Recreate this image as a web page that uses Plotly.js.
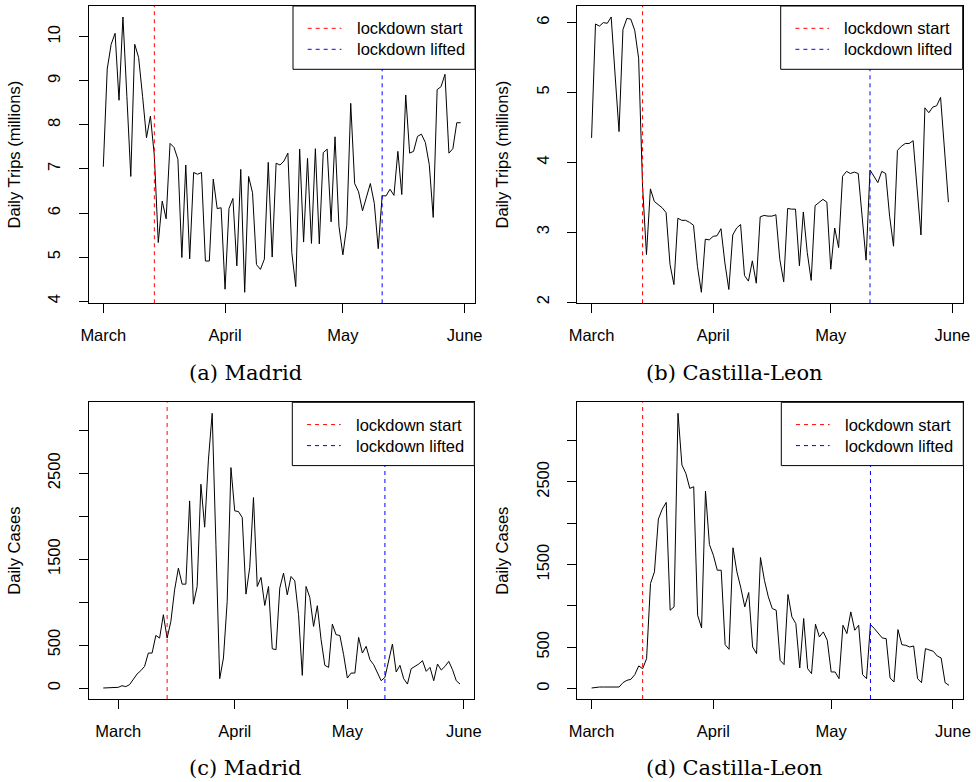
<!DOCTYPE html>
<html>
<head>
<meta charset="utf-8">
<script src="https://cdn.plot.ly/plotly-3.0.1.min.js"></script>
<style>
html, body { margin: 0; padding: 0; background: #ffffff; }
#chart { width: 976px; height: 782px; }
</style>
</head>
<body>
<div id="chart"></div>
<script>
// ---------------- data ----------------
const tripsStartDate = '2020-03-01';
const casesMadridStartDate = '2020-02-26';
const casesCLStartDate = '2020-03-01';
const lockdownStart = '2020-03-14';
const lockdownLifted = '2020-05-11';

const monthTickVals = ['2020-03-01', '2020-04-01', '2020-05-01', '2020-06-01'];
const monthTickText = ['March', 'April', 'May', 'June'];

const tripsMadridTicks = [4, 5, 6, 7, 8, 9, 10];
const tripsCLTicks = [2, 3, 4, 5, 6];
const casesTicks = [0, 500, 1000, 1500, 2000, 2500, 3000];
const casesTickText = ['0', '500', '', '1500', '', '2500', ''];

// Daily trips (millions), Madrid, 1 March - 31 May
const tripsMadrid = [
  7.05, 9.27, 9.83, 10.08, 8.56, 10.45, 8.65, 6.83, 9.83, 9.53,
  8.65, 7.71, 8.20, 7.30, 5.33, 6.27, 5.87, 7.58, 7.49, 7.22,
  4.99, 7.09, 4.96, 6.92, 6.88, 6.92, 4.91, 4.91, 6.77, 6.10,
  6.12, 4.27, 6.10, 6.33, 4.80, 6.99, 4.20, 6.83, 6.46, 4.83,
  4.72, 4.95, 7.15, 5.00, 7.13, 7.09, 7.18, 7.36, 5.10, 4.33,
  7.45, 5.34, 7.24, 5.31, 7.46, 5.30, 7.37, 7.45, 5.80, 7.73,
  5.70, 5.05, 5.72, 8.49, 6.67, 6.48, 6.05, 6.39, 6.67, 6.22,
  5.19, 6.39, 6.39, 6.54, 6.40, 7.40, 6.42, 8.68, 7.36, 7.40,
  7.74, 7.79, 7.60, 7.10, 5.90, 8.80, 8.87, 9.15, 7.36, 7.46,
  8.05, 8.05
];

// Daily trips (millions), Castilla-Leon, 1 March - 31 May
const tripsCL = [
  4.35, 5.98, 5.95, 6.00, 5.99, 6.08, 5.25, 4.44, 5.90, 6.06,
  6.05, 5.89, 5.49, 3.66, 2.68, 3.62, 3.44, 3.39, 3.35, 3.28,
  2.54, 2.25, 3.20, 3.17, 3.17, 3.14, 3.10, 2.51, 2.14, 2.90,
  2.89, 2.94, 2.95, 3.05, 2.56, 2.18, 2.96, 3.06, 3.11, 2.38,
  2.30, 2.59, 2.27, 3.22, 3.24, 3.23, 3.23, 3.25, 2.61, 2.29,
  3.34, 3.33, 3.33, 2.52, 3.29, 2.71, 2.31, 3.38, 3.43, 3.47,
  3.43, 2.47, 3.06, 2.78, 3.80, 3.87, 3.84, 3.86, 3.84, 3.23,
  2.60, 3.89, 3.80, 3.71, 3.87, 3.84, 3.23, 2.80, 4.17, 4.23,
  4.27, 4.27, 4.31, 3.66, 2.96, 4.78, 4.71, 4.79, 4.81, 4.93,
  4.20, 3.43
];

// Daily cases, Madrid, 26 February - 31 May
const casesMadrid = [
  0, 0, 0, 0, 8, 27, 16, 39, 97, 163,
  202, 252, 407, 407, 612, 581, 853, 581, 775, 1143,
  1395, 1209, 1209, 2178, 976, 1182, 2372, 1872, 2655, 3198,
  1667, 108, 349, 1008, 2566, 2062, 2054, 1985, 1093, 1403,
  2217, 1182, 1287, 961, 1182, 457, 446, 1163, 1337, 1085,
  1298, 1248, 853, 147, 1182, 1054, 717, 958, 562, 264,
  240, 744, 620, 612, 388, 116, 174, 174, 589, 407,
  485, 330, 271, 174, 85, 124, 310, 512, 186, 264,
  108, 46, 225, 252, 279, 318, 194, 240, 85, 279,
  209, 252, 310, 213, 85, 46
];

// Daily cases, Castilla-Leon, 1 March - 31 May
const casesCL = [
  8, 16, 20, 20, 20, 20, 20, 20, 73, 101,
  113, 170, 275, 242, 363, 1271, 1412, 2050, 2171, 2252,
  948, 989, 3329, 2704, 2603, 2421, 2441, 888, 735, 2389,
  1743, 1614, 1432, 1432, 532, 476, 1703, 1412, 1218, 989,
  1162, 504, 424, 1585, 1311, 1110, 969, 948, 343, 291,
  1138, 868, 787, 250, 848, 242, 182, 779, 626, 686,
  586, 202, 202, 121, 767, 666, 928, 706, 767, 170,
  121, 775, 726, 666, 613, 605, 129, 81, 714, 532,
  524, 504, 516, 121, 73, 484, 472, 452, 395, 371,
  73, 40
];

const captions = ['(a) Madrid', '(b) Castilla-Leon', '(c) Madrid', '(d) Castilla-Leon'];
const legendLabels = ['lockdown start', 'lockdown lifted'];
const yTitles = ['Daily Trips (millions)', 'Daily Trips (millions)', 'Daily Cases', 'Daily Cases'];

// ---------------- helpers ----------------
const W = 976, H = 782;
const px = x => x / W;
const py = y => 1 - y / H;
const DAY = 86400000;

function consecutiveDays(start, n) {
  const t0 = Date.parse(start + 'T00:00:00Z');
  const out = [];
  for (let i = 0; i < n; i++) out.push(new Date(t0 + i * DAY).toISOString().slice(0, 10));
  return out;
}
function msToStr(ms) {
  return new Date(ms).toISOString().replace('T', ' ').replace('Z', '');
}
function padRange(lo, hi) {
  const d = (hi - lo) * 0.04;
  return [lo - d, hi + d];
}
function dateRange(dates) {
  const r = padRange(Date.parse(dates[0] + 'T00:00:00Z'), Date.parse(dates[dates.length - 1] + 'T00:00:00Z'));
  return [msToStr(r[0]), msToStr(r[1])];
}
function valueRange(vals) {
  return padRange(Math.min.apply(null, vals), Math.max.apply(null, vals));
}

const SANS = 'Liberation Sans, Arial, Helvetica, sans-serif';
const SERIF = 'DejaVu Serif, Liberation Serif, serif';
const FS = 16.5;

const series = [
  { dates: consecutiveDays(tripsStartDate, tripsMadrid.length), vals: tripsMadrid, ticks: tripsMadridTicks, tickText: tripsMadridTicks.map(String) },
  { dates: consecutiveDays(tripsStartDate, tripsCL.length), vals: tripsCL, ticks: tripsCLTicks, tickText: tripsCLTicks.map(String) },
  { dates: consecutiveDays(casesMadridStartDate, casesMadrid.length), vals: casesMadrid, ticks: casesTicks, tickText: casesTickText },
  { dates: consecutiveDays(casesCLStartDate, casesCL.length), vals: casesCL, ticks: casesTicks, tickText: casesTickText }
];

// plot-area boxes in pixels
const panels = [
  { x0: 89,    x1: 475,   y0: 6,     y1: 303.3 },
  { x0: 577.3, x1: 962.7, y0: 6,     y1: 303.3 },
  { x0: 89,    x1: 474.3, y0: 402.3, y1: 699 },
  { x0: 577.3, x1: 963.3, y0: 402.3, y1: 699 }
];
const captionPos = [[246, 372.5], [734, 372.5], [246, 768], [734, 768]];

const axisCommon = {
  showline: true, mirror: true, linecolor: '#000', linewidth: 1,
  ticks: 'outside', ticklen: 9, tickwidth: 1, tickcolor: '#000',
  showgrid: false, zeroline: false, fixedrange: true,
  tickfont: { family: SANS, size: FS, color: '#000' }
};

const traces = [];
const shapes = [];
const annotations = [];
const layout = {
  width: W, height: H,
  margin: { l: 0, r: 0, t: 0, b: 0, pad: 0 },
  paper_bgcolor: '#fff', plot_bgcolor: '#fff',
  showlegend: false,
  font: { family: SANS, color: '#000' }
};

const dashStyle = '4px,4px';

series.forEach((s, k) => {
  const n = k === 0 ? '' : String(k + 1);
  const p = panels[k];
  traces.push({
    type: 'scatter', mode: 'lines',
    x: s.dates, y: s.vals,
    xaxis: 'x' + n, yaxis: 'y' + n,
    line: { color: '#000', width: 1 },
    hoverinfo: 'skip'
  });
  layout['xaxis' + n] = Object.assign({}, axisCommon, {
    type: 'date', domain: [px(p.x0), px(p.x1)], anchor: 'y' + n,
    range: dateRange(s.dates),
    tickmode: 'array', tickvals: monthTickVals, ticktext: monthTickText,
    ticklabelstandoff: 8
  });
  layout['yaxis' + n] = Object.assign({}, axisCommon, {
    domain: [py(p.y1), py(p.y0)], anchor: 'x' + n,
    range: valueRange(s.vals),
    tickmode: 'array', tickvals: s.ticks, ticktext: s.tickText,
    tickangle: -90, ticklabelstandoff: 12,
    title: { text: yTitles[k], font: { family: SANS, size: FS, color: '#000' }, standoff: 20 }
  });

  // lockdown lines
  [[lockdownStart, '#ff0000'], [lockdownLifted, '#0000ff']].forEach(([d, c]) => {
    shapes.push({
      type: 'line', xref: 'x' + n, yref: 'y' + n + ' domain',
      x0: d, x1: d, y0: 0, y1: 1,
      line: { color: c, width: 1, dash: dashStyle }, layer: 'above'
    });
  });

  // legend box (top-right of plot area)
  const L = p.x1 - 182, T = p.y0, B = p.y0 + 63.3;
  shapes.push({
    type: 'rect', xref: 'paper', yref: 'paper',
    x0: px(L), x1: px(p.x1), y0: py(B), y1: py(T),
    line: { color: '#000', width: 1 }, fillcolor: '#fff', layer: 'above'
  });
  const rows = [22.3, 43.3];
  const cols = ['#ff0000', '#0000ff'];
  rows.forEach((r, j) => {
    shapes.push({
      type: 'line', xref: 'paper', yref: 'paper',
      x0: px(L + 14.7), x1: px(L + 48.4), y0: py(T + r), y1: py(T + r),
      line: { color: cols[j], width: 1, dash: dashStyle }, layer: 'above'
    });
    annotations.push({
      xref: 'paper', yref: 'paper', x: px(L + 61.5), y: py(T + r),
      xanchor: 'left', yanchor: 'middle', showarrow: false,
      text: legendLabels[j], font: { family: SANS, size: FS, color: '#000' }
    });
  });

  annotations.push({
    xref: 'paper', yref: 'paper', x: px(captionPos[k][0]), y: py(captionPos[k][1]),
    xanchor: 'center', yanchor: 'middle', showarrow: false,
    text: captions[k], font: { family: SERIF, size: 21, color: '#000' }
  });
});

layout.shapes = shapes;
layout.annotations = annotations;

Plotly.newPlot('chart', traces, layout, { staticPlot: true, displayModeBar: false });
</script>
</body>
</html>
